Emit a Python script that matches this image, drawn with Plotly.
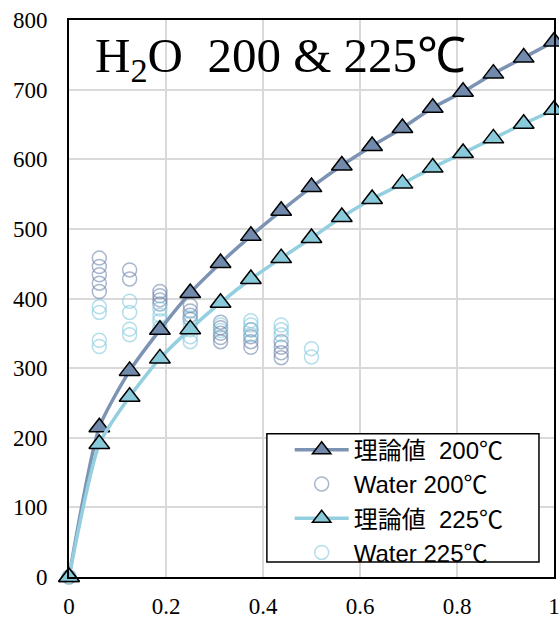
import plotly.graph_objects as go

x_theory = [0, 0.0625, 0.125, 0.1875, 0.25, 0.3125, 0.375, 0.4375, 0.5,
            0.5625, 0.625, 0.6875, 0.75, 0.8125, 0.875, 0.9375, 1.0]
y_theory_200 = [0, 215, 296, 355, 408, 451, 490, 526, 560, 591, 619, 645, 674, 697, 723, 746, 769]
y_theory_225 = [0, 191, 259, 314, 356, 394, 428, 458, 487, 517, 543, 565, 588, 609, 630, 651, 671]

x_water_200 = [0,
               0.0625, 0.0625, 0.0625, 0.0625, 0.0625,
               0.125, 0.125,
               0.1875, 0.1875, 0.1875, 0.1875,
               0.25, 0.25, 0.25, 0.25,
               0.3125, 0.3125, 0.3125, 0.3125, 0.3125,
               0.375, 0.375, 0.375, 0.375,
               0.4375, 0.4375, 0.4375, 0.4375]
y_water_200 = [0,
               458, 446, 434, 422, 410,
               441, 428,
               410, 404, 398, 392,
               390, 382, 376, 370,
               366, 358, 350, 344, 338,
               355, 345, 338, 330,
               338, 330, 322, 315]

x_water_225 = [0,
               0.0625, 0.0625, 0.0625, 0.0625,
               0.125, 0.125, 0.125, 0.125,
               0.1875, 0.1875, 0.1875, 0.1875,
               0.25, 0.25, 0.25, 0.25, 0.25,
               0.3125, 0.3125,
               0.375, 0.375, 0.375, 0.375,
               0.4375, 0.4375, 0.4375,
               0.5, 0.5]
y_water_225 = [0,
               388, 380, 340, 331,
               396, 380, 356, 348,
               385, 376, 368, 358,
               372, 364, 355, 345, 338,
               362, 354,
               368, 362, 355, 348,
               362, 355, 348,
               328, 316]

x_ticks = [0, 0.2, 0.4, 0.6, 0.8, 1.0]
x_tick_labels = ["0", "0.2", "0.4", "0.6", "0.8", "1"]
y_ticks = [0, 100, 200, 300, 400, 500, 600, 700, 800]

C200_line = "#7d93b3"
C200_fill = "#7189ab"
C225_line = "#93cfdf"
C225_fill = "#88c9da"

fig = go.Figure()

# water circles drawn first (underneath), theory curves on top
fig.add_trace(go.Scatter(
    x=x_water_200, y=y_water_200, mode="markers", name="Water 200℃",
    legendrank=2,
    marker=dict(symbol="circle-open", size=14, color="rgba(112,134,172,0.6)",
                line=dict(width=1.5)),
    cliponaxis=False,
))
fig.add_trace(go.Scatter(
    x=x_water_225, y=y_water_225, mode="markers", name="Water 225℃",
    legendrank=4,
    marker=dict(symbol="circle-open", size=14, color="rgba(130,200,220,0.6)",
                line=dict(width=1.5)),
    cliponaxis=False,
))
fig.add_trace(go.Scatter(
    x=x_theory, y=y_theory_200, mode="lines+markers", name="理論値  200℃",
    legendrank=1,
    line=dict(color=C200_line, width=3.5, shape="spline", smoothing=0.6),
    marker=dict(symbol="triangle-up", size=18, color=C200_fill,
                line=dict(color="black", width=1.5)),
    cliponaxis=False,
))
fig.add_trace(go.Scatter(
    x=x_theory, y=y_theory_225, mode="lines+markers", name="理論値  225℃",
    legendrank=3,
    line=dict(color=C225_line, width=3.5, shape="spline", smoothing=0.6),
    marker=dict(symbol="triangle-up", size=18, color=C225_fill,
                line=dict(color="black", width=1.5)),
    cliponaxis=False,
))

serif = "Liberation Serif, Times New Roman, serif"
sans = "Liberation Sans, Arial, Noto Sans CJK JP, sans-serif"

fig.update_layout(
    width=559, height=619,
    margin=dict(l=69, r=5, t=20, b=42, autoexpand=False),
    paper_bgcolor="white", plot_bgcolor="white",
    showlegend=True,
    legend=dict(
        x=0.455, y=0.268, xanchor="left", yanchor="top",
        bgcolor="rgba(0,0,0,0)", borderwidth=0,
        font=dict(family=sans, size=24, color="black"),
        tracegroupgap=0, itemsizing="trace", itemwidth=54,
    ),
    shapes=[dict(
        type="rect", xref="paper", yref="paper",
        x0=0.408, x1=0.969, y0=0.027, y1=0.257,
        fillcolor="white", line=dict(color="black", width=1.5), layer="above",
    )],
    xaxis=dict(
        range=[0, 1], tickvals=x_ticks, ticktext=x_tick_labels,
        showgrid=True, gridcolor="#d9d9d9", gridwidth=1.5,
        showline=True, linecolor="black", linewidth=2, mirror=True,
        ticks="", zeroline=False, ticklabelstandoff=7, automargin=False,
        ticklabeloverflow="allow",
        tickfont=dict(family=serif, size=23, color="black"),
    ),
    yaxis=dict(
        range=[0, 800], tickvals=y_ticks,
        showgrid=True, gridcolor="#d9d9d9", gridwidth=1.5,
        showline=True, linecolor="black", linewidth=2, mirror=True,
        ticks="", zeroline=False, ticklabelstandoff=15, automargin=False,
        ticklabeloverflow="allow",
        tickfont=dict(family=serif, size=23, color="black"),
    ),
    annotations=[dict(
        xref="paper", yref="paper", x=0.05, y=0.99, xanchor="left", yanchor="top",
        text="H<sub>2</sub>O  200 & 225℃", showarrow=False,
        font=dict(family=serif, size=49, color="black"),
    )],
)

fig.write_html("out.html")
